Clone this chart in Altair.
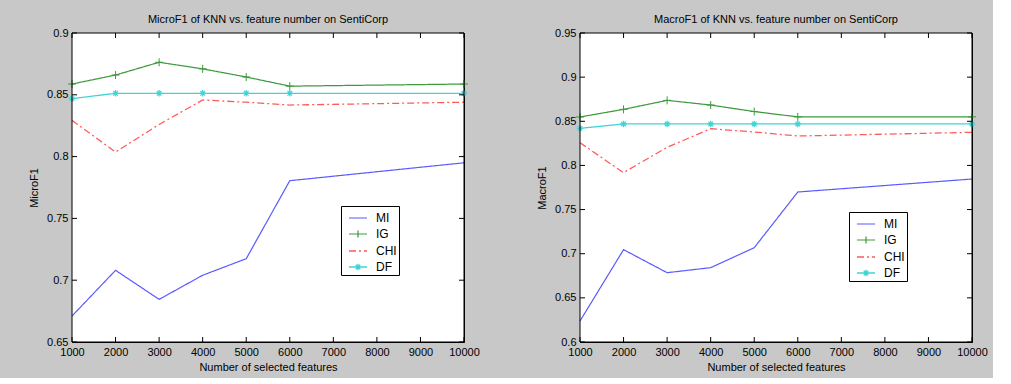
import altair as alt
import pandas as pd

# ---------------- data ----------------
features = [1000, 2000, 3000, 4000, 5000, 6000, 10000]
series = ["MI", "IG", "CHI", "DF"]

micro_mi = [0.671, 0.708, 0.6845, 0.704, 0.7174, 0.7805, 0.795]
micro_ig = [0.8587, 0.866, 0.8763, 0.871, 0.8644, 0.857, 0.8587]
micro_chi = [0.8293, 0.8037, 0.826, 0.8458, 0.844, 0.8417, 0.844]
micro_df = [0.8469, 0.8512, 0.8512, 0.8512, 0.8512, 0.8512, 0.8512]

macro_mi = [0.6238, 0.7046, 0.6785, 0.6842, 0.7068, 0.7699, 0.7846]
macro_ig = [0.8549, 0.8635, 0.8737, 0.8684, 0.861, 0.855, 0.855]
macro_chi = [0.8258, 0.7918, 0.8205, 0.8416, 0.8379, 0.8333, 0.8375]
macro_df = [0.842, 0.847, 0.847, 0.847, 0.847, 0.847, 0.847]

x_ticks = [1000, 2000, 3000, 4000, 5000, 6000, 7000, 8000, 9000, 10000]
micro_yticks = [0.65, 0.7, 0.75, 0.8, 0.85, 0.9]
macro_yticks = [0.6, 0.65, 0.7, 0.75, 0.8, 0.85, 0.9, 0.95]
x_domain = [1000, 10000]
micro_domain = [0.65, 0.9]
macro_domain = [0.6, 0.95]

# ---------------- style ----------------
W, H = 392, 309
FONT = "Liberation Sans"
colors = ["#5a5aff", "#3d9a3d", "#ff5a5a", "#3fd4d4"]
dashes = [[1, 0], [1, 0], [7, 3, 2, 3], [1, 0]]
widths = [1.2, 1.3, 1.2, 2.0]
PLUS = "M-1,0L1,0M0,-1L0,1"
STAR = "M-1,0L1,0M0,-1L0,1M-0.7,-0.7L0.7,0.7M-0.7,0.7L0.7,-0.7"
legend_paths = [
    "M-1,0L1,0",
    "M-1,0L1,0M0,-0.4L0,0.4",
    "M-1,0L1,0",
    "M-1,0L1,0M0,-0.35L0,0.35M-0.25,-0.25L0.25,0.25M-0.25,0.25L0.25,-0.25",
]


def panel_df(mi, ig, chi, df, yticks):
    rows = []
    for name, vals in zip(series, [mi, ig, chi, df]):
        for f, v in zip(features, vals):
            rows.append({"features": f, "value": v, "series": name, "kind": "line"})
    for t in x_ticks:
        rows.append({"features": t, "value": yticks[0], "series": "MI", "kind": "xtick"})
    for t in yticks:
        rows.append({"features": x_ticks[0], "value": t, "series": "MI", "kind": "ytick"})
    rows.append({"features": x_ticks[0], "value": yticks[0], "series": "MI", "kind": "frame"})
    return pd.DataFrame(rows)


def panel(data, yticks, ydomain, title, ytitle, legend_y):
    xscale = alt.Scale(domain=x_domain, nice=False, zero=False)
    yscale = alt.Scale(domain=ydomain, nice=False, zero=False)
    xaxis = alt.Axis(values=x_ticks, format="d", title="Number of selected features",
                     ticks=False, domain=True, domainColor="black", domainWidth=1,
                     grid=False, labelPadding=4,
                     titlePadding=4, labelFlush=False, labelOverlap=False)
    yaxis = alt.Axis(values=yticks, format="~g", title=ytitle, ticks=False,
                     domain=True, domainColor="black", domainWidth=1,
                     grid=False, labelPadding=4, titlePadding=7,
                     labelFlush=False, labelOverlap=False)
    leg = alt.Legend(orient="none", legendX=269, legendY=legend_y, title=None,
                     padding=2, strokeColor="black", fillColor="white",
                     symbolSize=324, labelFontSize=12,
                     labelFont=FONT, labelOffset=8, rowPadding=-4, symbolOffset=5,
                     labelColor="black", symbolOpacity=1,
                     labelExpr="datum.label + '  '")
    cscale = alt.Scale(domain=series, range=colors)
    dscale = alt.Scale(domain=series, range=dashes)
    wscale = alt.Scale(domain=series, range=widths)
    sscale = alt.Scale(domain=series, range=legend_paths)

    base = alt.Chart(data)
    x = alt.X("features:Q", scale=xscale, axis=xaxis)
    y = alt.Y("value:Q", scale=yscale, axis=yaxis)
    color = alt.Color("series:N", scale=cscale, legend=leg)
    dash = alt.StrokeDash("series:N", scale=dscale, legend=leg)
    width = alt.StrokeWidth("series:N", scale=wscale, legend=leg)

    line_data = base.transform_filter(alt.datum.kind == "line")
    xt = base.transform_filter(alt.datum.kind == "xtick")
    yt = base.transform_filter(alt.datum.kind == "ytick")
    fr = base.transform_filter(alt.datum.kind == "frame")

    plot_bg = fr.mark_rect(color="white").encode(
        x=alt.value(0), x2=alt.value(W), y=alt.value(0), y2=alt.value(H))

    lines = line_data.mark_line().encode(x=x, y=y, color=color, strokeDash=dash, strokeWidth=width)
    ig_pts = line_data.transform_filter(alt.datum.series == "IG").mark_point(
        shape=PLUS, filled=False, size=64, strokeWidth=1, color=colors[1], opacity=1
    ).encode(x=x, y=y)
    df_pts = line_data.transform_filter(alt.datum.series == "DF").mark_point(
        shape=STAR, filled=False, size=42, strokeWidth=1.2, color=colors[3], opacity=1
    ).encode(x=x, y=y)
    legend_layer = line_data.mark_point(filled=False, opacity=0).encode(
        x=x, y=y, color=color, strokeDash=dash, strokeWidth=width,
        shape=alt.Shape("series:N", scale=sscale, legend=leg),
    )

    tick_bottom = xt.mark_rule(color="black", strokeWidth=1).encode(
        x=x, y=alt.value(H), y2=alt.value(H - 5))
    tick_top = xt.mark_rule(color="black", strokeWidth=1).encode(
        x=x, y=alt.value(0), y2=alt.value(5))
    tick_left = yt.mark_rule(color="black", strokeWidth=1).encode(
        y=y, x=alt.value(0), x2=alt.value(5))
    tick_right = yt.mark_rule(color="black", strokeWidth=1).encode(
        y=y, x=alt.value(W - 5), x2=alt.value(W))

    frame_top = fr.mark_rule(color="black", strokeWidth=1).encode(
        x=alt.value(0), x2=alt.value(W), y=alt.value(0))
    frame_right = fr.mark_rule(color="black", strokeWidth=1).encode(
        y=alt.value(0), y2=alt.value(H), x=alt.value(W))
    frame_bottom = fr.mark_rule(color="black", strokeWidth=1).encode(
        x=alt.value(0), x2=alt.value(W), y=alt.value(H))
    frame_left = fr.mark_rule(color="black", strokeWidth=1).encode(
        y=alt.value(0), y2=alt.value(H), x=alt.value(0))

    return alt.layer(
        plot_bg, lines, ig_pts, df_pts, legend_layer,
        tick_bottom, tick_top, tick_left, tick_right,
        frame_top, frame_right, frame_bottom, frame_left,
    ).properties(
        width=W, height=H,
        title=alt.TitleParams(title, fontSize=11, font=FONT, fontWeight="normal",
                              color="black", offset=2),
    )


left = panel(panel_df(micro_mi, micro_ig, micro_chi, micro_df, micro_yticks), micro_yticks,
             micro_domain, "MicroF1 of KNN vs. feature number on SentiCorp", "MicroF1", 173)
right = panel(panel_df(macro_mi, macro_ig, macro_chi, macro_df, macro_yticks), macro_yticks,
              macro_domain, "MacroF1 of KNN vs. feature number on SentiCorp", "MacroF1", 179)

chart = alt.hconcat(left, right, spacing=56).resolve_scale(
    color="independent", strokeDash="independent", strokeWidth="independent",
    shape="independent",
).resolve_legend(
    color="independent", strokeDash="independent", strokeWidth="independent",
    shape="independent",
).properties(
    background="#c8c8c8",
    padding={"left": 28, "top": 13, "right": 5, "bottom": 5},
).configure_view(
    stroke="black", strokeWidth=1, fill="white"
).configure_axis(
    labelFont=FONT, labelFontSize=11, labelColor="black",
    titleFont=FONT, titleFontSize=11, titleColor="black", titleFontWeight="normal",
)

chart.save("out.html", embed_options={"renderer": "svg", "actions": False})
